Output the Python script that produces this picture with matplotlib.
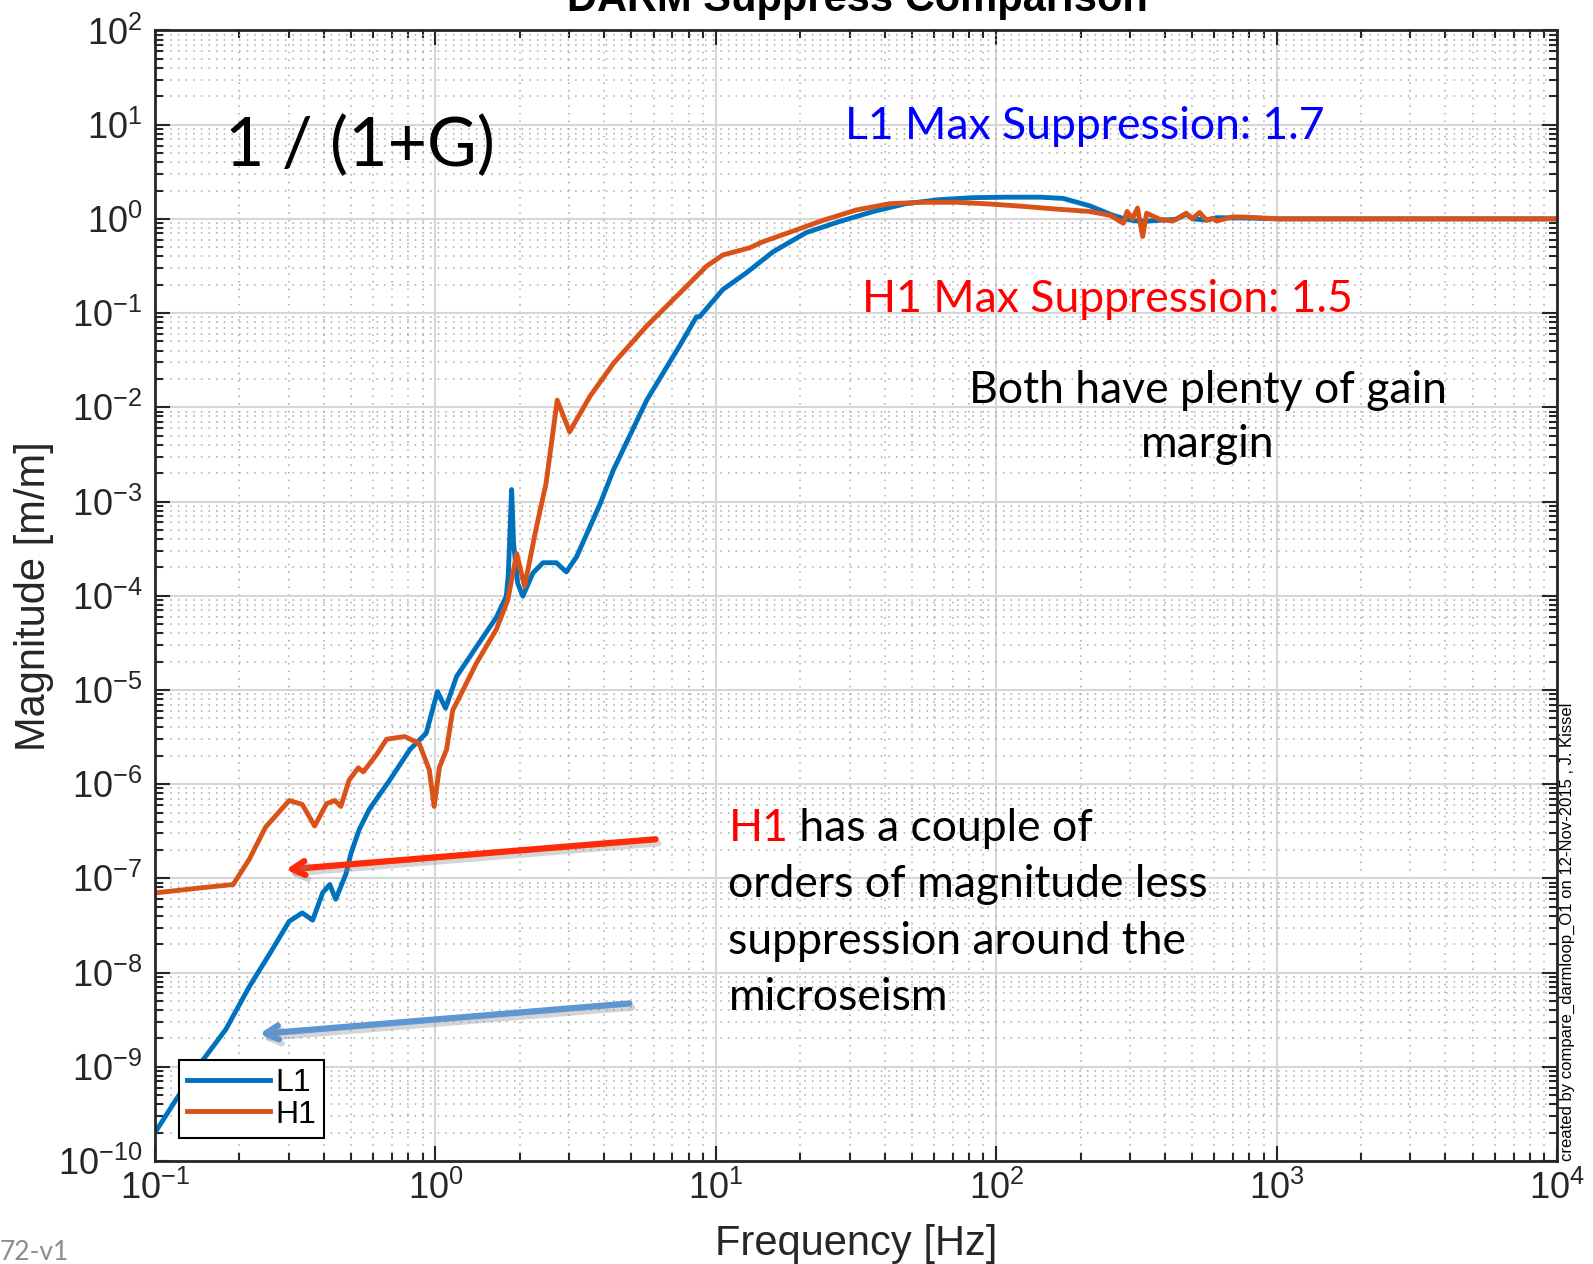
import numpy as np
import matplotlib
matplotlib.use('Agg')
import matplotlib.pyplot as plt
from matplotlib.ticker import LogLocator, NullFormatter
import matplotlib.patheffects as pe

plt.rcParams['font.family'] = ['Liberation Sans', 'DejaVu Sans']
plt.rcParams['axes.unicode_minus'] = False

# closed loop suppression 1/(1+G) for each site
l1_freq = [0.1, 0.119, 0.144, 0.179, 0.217, 0.257, 0.301, 0.335, 0.365, 0.396,
           0.42, 0.441, 0.48, 0.50, 0.535, 0.581, 0.648, 0.687, 0.811, 0.927,
           1.017, 1.087, 1.19, 1.40, 1.65, 1.79, 1.82, 1.87, 1.90, 1.965,
           2.05, 2.23, 2.42, 2.70, 2.93, 3.19, 3.87, 4.31, 5.67, 7.41,
           8.53, 8.75, 10.6, 12.8, 16.0, 21.0, 27.7, 36.5, 47.6, 62.7,
           82.6, 109, 143, 173, 215, 261, 291, 316, 352, 438,
           476, 505, 562, 611, 798, 1023, 1e4]
l1_mag = [2.0e-10, 4.5e-10, 1.05e-9, 2.5e-9, 7.1e-9, 1.6e-8, 3.5e-8, 4.3e-8, 3.6e-8, 7.0e-8,
          8.6e-8, 6.0e-8, 1.12e-7, 1.85e-7, 3.3e-7, 5.4e-7, 8.6e-7, 1.1e-6, 2.33e-6, 3.46e-6,
          9.6e-6, 6.4e-6, 1.39e-5, 2.86e-5, 5.9e-5, 9.9e-5, 1.7e-4, 1.34e-3, 3.6e-4, 1.36e-4,
          9.9e-5, 1.75e-4, 2.24e-4, 2.24e-4, 1.79e-4, 2.6e-4, 9.5e-4, 2.15e-3, 0.0119, 0.0444,
          0.0912, 0.0912, 0.178, 0.265, 0.447, 0.715, 0.94, 1.20, 1.45, 1.60,
          1.68, 1.70, 1.70, 1.65, 1.38, 1.09, 0.99, 0.95, 0.95, 0.99,
          1.12, 1.0, 0.97, 1.03, 1.02, 1.0, 1.0]

h1_freq = [0.1, 0.144, 0.19, 0.217, 0.248, 0.301, 0.335, 0.371, 0.409, 0.438,
           0.46, 0.492, 0.531, 0.553, 0.617, 0.67, 0.778, 0.875, 0.951, 0.99,
           1.034, 1.096, 1.153, 1.19, 1.40, 1.65, 1.81, 1.95, 2.08, 2.28,
           2.48, 2.72, 3.01, 3.56, 4.31, 5.67, 7.41, 9.27, 10.6, 13.2,
           14.7, 18.2, 24.0, 31.6, 41.7, 54.8, 72.2, 94.4, 124, 164,
           215, 255, 284, 293, 306, 319, 333, 344, 383, 427,
           476, 500, 531, 562, 591, 611, 698, 798, 1023, 1e4]
h1_mag = [7.0e-8, 7.9e-8, 8.6e-8, 1.6e-7, 3.5e-7, 6.7e-7, 6.1e-7, 3.6e-7, 6.2e-7, 6.7e-7,
          5.8e-7, 1.1e-6, 1.49e-6, 1.35e-6, 2.06e-6, 3.0e-6, 3.2e-6, 2.7e-6, 1.42e-6, 5.8e-7,
          1.52e-6, 2.33e-6, 6.1e-6, 7.3e-6, 1.92e-5, 4.4e-5, 8.9e-5, 2.8e-4, 1.26e-4, 4.95e-4,
          1.55e-3, 0.0119, 5.5e-3, 0.0131, 0.0291, 0.073, 0.161, 0.315, 0.414, 0.493,
          0.571, 0.715, 0.96, 1.24, 1.45, 1.50, 1.50, 1.44, 1.36, 1.27,
          1.2, 1.09, 0.90, 1.2, 1.0, 1.3, 0.65, 1.15, 0.99, 0.95,
          1.15, 1.0, 1.17, 0.97, 1.01, 0.95, 1.05, 1.04, 1.0, 1.0]

l1_max = 1.7
h1_max = 1.5

fig = plt.figure(figsize=(15.93, 12.64), dpi=100)
ax = fig.add_axes([0.0973, 0.0815, 0.8801, 0.8944])

ax.plot(l1_freq, l1_mag, color='#0072BD', lw=3.5, label='L1')
ax.plot(h1_freq, h1_mag, color='#D95319', lw=3.5, label='H1')

ax.set_xscale('log')
ax.set_yscale('log')
ax.set_xlim(1e-1, 1e4)
ax.set_ylim(1e-10, 1e2)

ax.xaxis.set_major_locator(LogLocator(base=10, numticks=20))
ax.yaxis.set_major_locator(LogLocator(base=10, numticks=20))
ax.xaxis.set_minor_locator(LogLocator(base=10, subs=np.arange(2, 10), numticks=200))
ax.yaxis.set_minor_locator(LogLocator(base=10, subs=np.arange(2, 10), numticks=200))
ax.xaxis.set_minor_formatter(NullFormatter())
ax.yaxis.set_minor_formatter(NullFormatter())

ax.set_axisbelow(True)
ax.grid(True, which='major', color='#D6D6D6', lw=1.5, ls='-')
ax.grid(True, which='minor', color='#A8A8A8', lw=1.1, ls=(0, (1, 4)))

ax.tick_params(which='both', direction='in', top=True, right=True,
               color='#262626', width=1.5)
ax.tick_params(which='major', length=11, labelsize=26, labelcolor='#262626')
ax.tick_params(axis='y', which='major', pad=9)
ax.tick_params(axis='x', which='major', pad=7)
ax.tick_params(which='minor', length=6)
for sp in ax.spines.values():
    sp.set_linewidth(2)
    sp.set_color('#262626')

ax.set_xlabel('Frequency [Hz]', fontsize=30, color='#262626', labelpad=12)
ax.set_ylabel('Magnitude [m/m]', fontsize=30, color='#262626', labelpad=3)
fig.text(0.538, 0.9913, 'DARM Suppress Comparison', fontsize=30, fontweight='bold',
         ha='center', va='baseline')

leg = ax.legend(loc='lower left', bbox_to_anchor=(0.0174, 0.0207), borderaxespad=0,
                fontsize=23, handlelength=2.6, handletextpad=0.15, borderpad=0.25,
                labelspacing=0.05, fancybox=False, framealpha=1, edgecolor='black')
leg.get_frame().set_linewidth(1.5)

# slide annotations
note = ['Lato', 'DejaVu Sans']
ax.text(0.050, 0.880, '1 / (1+G)', transform=ax.transAxes, fontsize=49,
        family=note, va='baseline')
ax.text(0.492, 0.904, f'L1 Max Suppression: {l1_max}', transform=ax.transAxes,
        fontsize=32, family=note, color='#0000FF', va='baseline')
ax.text(0.504, 0.751, f'H1 Max Suppression: {h1_max}', transform=ax.transAxes,
        fontsize=32, family=note, color='#FF0000', va='baseline')
ax.text(0.751, 0.6705, 'Both have plenty of gain', transform=ax.transAxes,
        fontsize=32, family=note, ha='center', va='baseline')
ax.text(0.751, 0.6225, 'margin', transform=ax.transAxes,
        fontsize=32, family=note, ha='center', va='baseline')

t1 = ax.text(0.409, 0.283, 'H1', transform=ax.transAxes, fontsize=32,
             family=note, color='#FF0000', va='baseline')
ax.annotate(' has a couple of', xy=(1, 0), xycoords=t1, fontsize=32,
            family=note, va='bottom', ha='left')
for txt, yy in [('orders of magnitude less', 0.2335),
                ('suppression around the', 0.183),
                ('microseism', 0.1335)]:
    ax.text(0.409, yy, txt, transform=ax.transAxes, fontsize=32, family=note,
            va='baseline')

shadow = [pe.SimpleLineShadow(offset=(2, -3), shadow_color='#888888', alpha=0.35),
          pe.Normal()]
ax.annotate('', xy=(0.293, 1.24e-7), xytext=(6.1, 2.6e-7),
            arrowprops=dict(arrowstyle='->,head_length=0.9,head_width=0.5',
                            color='#FF2A0A', lw=4.5, shrinkA=0, shrinkB=0,
                            path_effects=shadow))
ax.annotate('', xy=(0.236, 2.23e-9), xytext=(4.92, 4.7e-9),
            arrowprops=dict(arrowstyle='->,head_length=0.9,head_width=0.5',
                            color='#5F95D0', lw=4.5, shrinkA=0, shrinkB=0,
                            path_effects=shadow))

fig.text(0.984, 0.0815, 'created by compare_darmloop_O1 on 12-Nov-2015 , J. Kissel',
         rotation=90, fontsize=12, ha='center', va='bottom')
fig.text(0.0, 0.003, '72-v1', fontsize=19, family=note, color='#8C8C8C',
         ha='left', va='baseline')

fig.savefig('out.png', dpi=100)
